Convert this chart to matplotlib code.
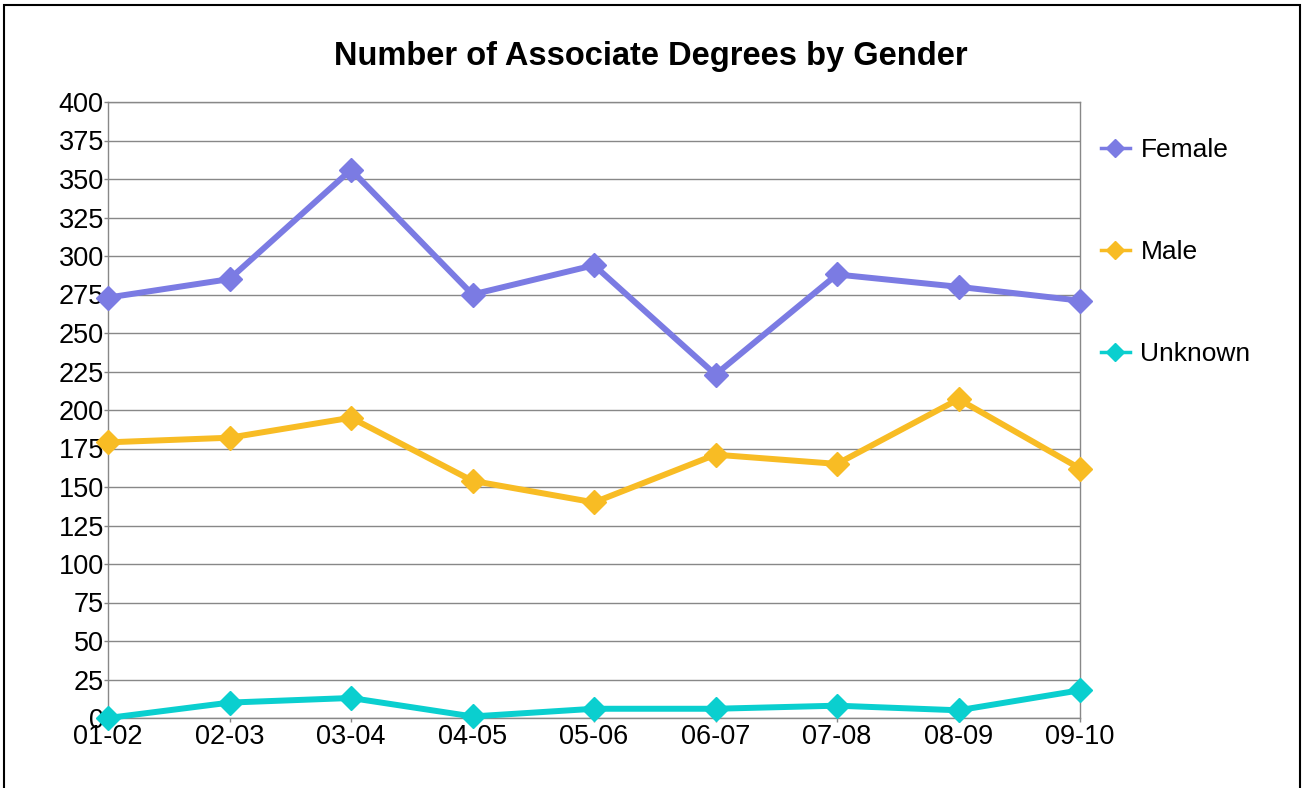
import matplotlib.pyplot as plt
from matplotlib.patches import Rectangle

years = ['01-02', '02-03', '03-04', '04-05', '05-06', '06-07', '07-08', '08-09', '09-10']
female = [273, 285, 356, 275, 294, 223, 288, 280, 271]
male = [179, 182, 195, 154, 140, 171, 165, 207, 162]
unknown = [0, 10, 13, 1, 6, 6, 8, 5, 18]

plt.rcParams['font.family'] = ['Liberation Sans', 'DejaVu Sans']

fig = plt.figure(figsize=(13.02, 7.88), dpi=100)
ax = fig.add_axes([108/1302, 1 - 718/788, (1080-108)/1302, (718-102)/788])

x = list(range(len(years)))
ax.plot(x, female, color='#7b7be3', lw=4.3, marker='D', ms=12.5, label='Female', clip_on=False, zorder=3)
ax.plot(x, male, color='#f8bc24', lw=4.3, marker='D', ms=12.5, label='Male', clip_on=False, zorder=3)
ax.plot(x, unknown, color='#0acfcf', lw=4.3, marker='D', ms=12.5, label='Unknown', clip_on=False, zorder=3)

ax.set_xlim(0, len(years) - 1)
ax.set_ylim(0, 400)
ax.set_yticks(range(0, 401, 25))
ax.set_xticks(x)
ax.set_xticklabels(years)
ax.tick_params(axis='both', labelsize=19.5, color='#888888', length=3, width=1)
ax.tick_params(axis='y', pad=0)
ax.tick_params(axis='x', pad=1)
ax.yaxis.grid(True, color='#888888', lw=1)
ax.set_axisbelow(True)
for s in ax.spines.values():
    s.set_color('#888888')
    s.set_linewidth(1)

fig.text(0.5, 1 - 56/788, 'Number of Associate Degrees by Gender', fontsize=23.5,
         fontweight='bold', ha='center', va='center')

leg = ax.legend(loc='upper left', bbox_to_anchor=(0.997, 0.98), frameon=False, fontsize=19,
                handlelength=1.1, handletextpad=0.4, labelspacing=2.95, markerscale=0.7)
for h in leg.legend_handles:
    h.set_linewidth(2.5)

fig.add_artist(Rectangle((4/1302, -0.01), 1296/1302, 1 - 5/788 + 0.01, transform=fig.transFigure,
                         fill=False, edgecolor='black', lw=1.5))

fig.savefig('out.png', dpi=100)
